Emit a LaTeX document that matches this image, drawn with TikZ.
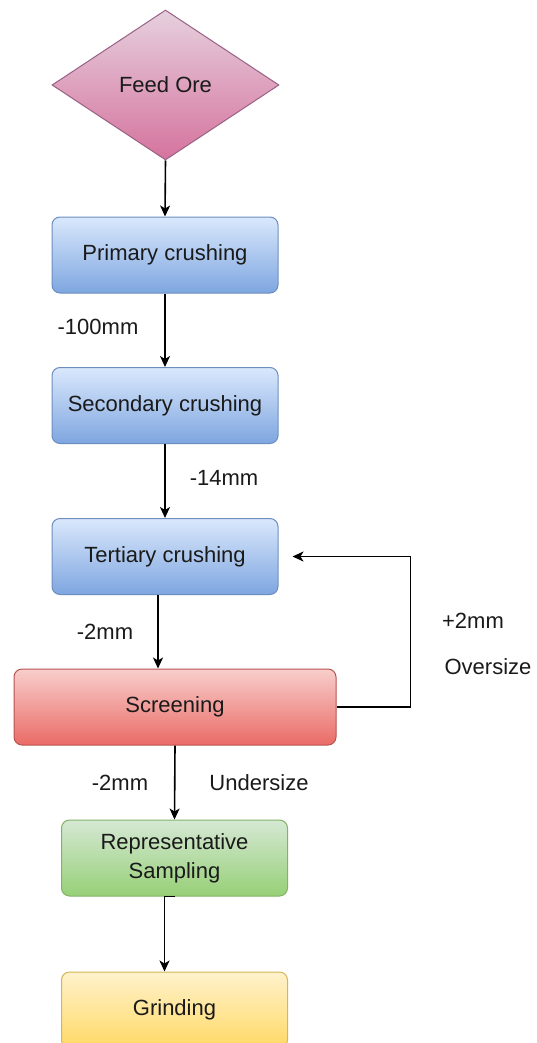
\documentclass[tikz,border=0pt]{standalone}
\usepackage{fontspec}
\setmainfont{Liberation Sans}
\usetikzlibrary{shapes.geometric,arrows.meta}
\definecolor{bluetop}{HTML}{DAE8FC}\definecolor{bluebot}{HTML}{7EA6E0}\definecolor{blueline}{HTML}{6C8EBF}
\definecolor{pinktop}{HTML}{E6D0DE}\definecolor{pinkbot}{HTML}{D5739D}\definecolor{pinkline}{HTML}{996185}
\definecolor{redtop}{HTML}{F8CECC}\definecolor{redbot}{HTML}{EA6B66}\definecolor{redline}{HTML}{B85450}
\definecolor{greentop}{HTML}{D5E8D4}\definecolor{greenbot}{HTML}{97D077}\definecolor{greenline}{HTML}{82B366}
\definecolor{yeltop}{HTML}{FFF2CC}\definecolor{yelbot}{HTML}{FFD966}\definecolor{yelline}{HTML}{D6B656}
\definecolor{ink}{HTML}{1A1A1A}
\begin{document}
\begin{tikzpicture}[x=1pt,y=-1pt,
  every node/.style={font=\fontsize{22}{29}\selectfont, text=ink},
  procbox/.style={rectangle, rounded corners=8pt, minimum width=226pt, minimum height=76pt,
    inner sep=0pt, line width=1pt, align=center},
  bluebox/.style={procbox, draw=blueline, top color=bluetop, bottom color=bluebot},
  redbox/.style={procbox, draw=redline, top color=redtop, bottom color=redbot},
  greenbox/.style={procbox, draw=greenline, top color=greentop, bottom color=greenbot},
  yelbox/.style={procbox, draw=yelline, top color=yeltop, bottom color=yelbot},
  feed/.style={diamond, minimum width=227pt, minimum height=150pt, inner sep=0pt,
    line width=1pt, draw=pinkline, top color=pinktop, bottom color=pinkbot},
  arr/.style={draw=black, line width=1.6pt, -{Stealth[length=11pt,width=10pt,inset=3pt]}},
  lbl/.style={inner sep=0pt}
]
\clip (0,0) rectangle (537,1043);
\fill[white] (0,0) rectangle (537,1043);

% process chain
\node[feed] (ore) at (165.5,85) {Feed Ore};
\node[bluebox] (prim) at (165,255) {Primary crushing};
\node[bluebox] (sec) at (165,405.5) {Secondary crushing};
\node[bluebox] (tert) at (165,556.5) {Tertiary crushing};
\node[redbox, minimum width=322pt] (scr) at (175,707) {Screening};
\node[greenbox] (rep) at (174.5,858) {Representative\\Sampling};
\node[yelbox] (grind) at (174.5,1010) {Grinding};

% flow between steps
\draw[arr] (ore.south) -- (prim.north);
\draw[arr] (prim.south) -- (sec.north);
\draw[arr] (sec.south) -- (tert.north);
\draw[arr] ([xshift=-7pt]tert.south) -- ([xshift=-7pt]tert.south |- scr.north);
\draw[arr] (scr.south) -- (rep.north);
\draw[arr] (rep.south) -| ([xshift=-10pt]grind.north);
% oversize returned to the tertiary crusher
\draw[arr] (scr.east) -| ([xshift=132pt]tert.east) -- ([xshift=14pt]tert.east);

% size labels
\node[lbl] (l100) at (98,327) {-100mm};
\node[lbl] (l14) at (224,478) {-14mm};
\node[lbl] (l2a) at (105,632) {-2mm};
\node[lbl] (lp2) at (473,621) {+2mm};
\node[lbl] (lover) at (488,667) {Oversize};
\node[lbl] (l2b) at (120,783) {-2mm};
\node[lbl] (lunder) at (259,783) {Undersize};
\end{tikzpicture}
\end{document}
